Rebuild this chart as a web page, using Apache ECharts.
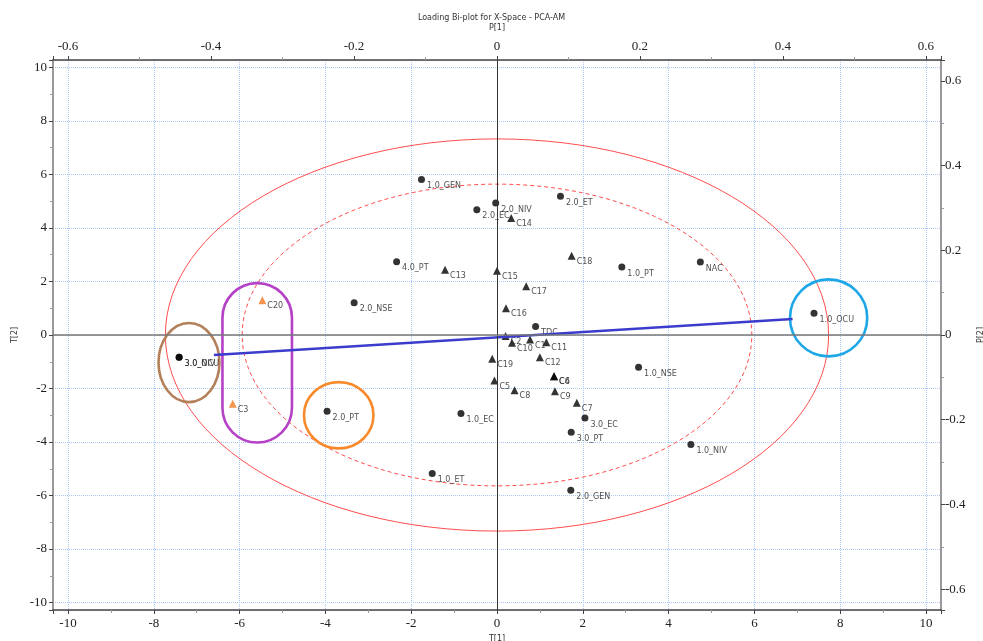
<!DOCTYPE html>
<html>
<head>
<meta charset="utf-8">
<script src="https://cdn.jsdelivr.net/npm/echarts@6/dist/echarts.min.js"></script>
<style>
  html, body { margin: 0; padding: 0; background: #fff; }
  #main { width: 983px; height: 641px; }
</style>
</head>
<body>
<div id="main"></div>
<script>
// observations (dots)
var obsNames = ['1.0_GEN', '2.0_EC', '2.0_NIV', '2.0_ET', '4.0_PT', '2.0_NSE', '1.0_PT', 'NAC', '1.0_OCU', '1.0_NSE',
    '1.0_NIV', 'TDC', '1.0_EC', '3.0_EC', '3.0_PT', '1.0_ET', '2.0_GEN', '3.0_OCU', '3.0_NIV', '2.0_PT'];
var obsT1 = [-1.76, -0.47, -0.03, 1.48, -2.34, -3.33, 2.91, 4.74, 7.39, 3.30,
    4.52, 0.90, -0.84, 2.05, 1.73, -1.51, 1.72, -7.41, -7.41, -3.96];
var obsT2 = [5.81, 4.68, 4.93, 5.19, 2.74, 1.21, 2.54, 2.73, 0.81, -1.21,
    -4.09, 0.32, -2.93, -3.10, -3.64, -5.18, -5.80, -0.83, -0.83, -2.85];

// loadings (triangles)
var varNames = ['C14', 'C13', 'C15', 'C18', 'C17', 'C16', 'C2', 'C10', 'C1', 'C11',
    'C12', 'C19', 'C5', 'C8', 'C4', 'C6', 'C9', 'C7'];
var varT1 = [0.33, -1.21, 0.00, 1.74, 0.68, 0.21, 0.20, 0.35, 0.77, 1.15,
    1.00, -0.11, -0.06, 0.41, 1.33, 1.33, 1.35, 1.86];
var varT2 = [4.37, 2.44, 2.40, 2.96, 1.82, 1.00, -0.04, -0.29, -0.17, -0.27,
    -0.83, -0.89, -1.70, -2.07, -1.54, -1.54, -2.10, -2.53];

// highlighted loadings (orange triangles)
var hiNames = ['C20', 'C3'];
var hiT1 = [-5.47, -6.16];
var hiT2 = [1.30, -2.57];

// loading vector end points
var vecT1 = [-6.60, 6.89];
var vecT2 = [-0.75, 0.60];

// Hotelling ellipses (outer solid, inner dashed): semi axes
var ellA = [7.73, 5.94];
var ellB = [7.33, 5.64];

// marked regions: centre t1, centre t2, half width, half height
var regionCx = [-7.18, -5.59, -3.69, 7.73];
var regionCy = [-1.03, -1.04, -3.00, 0.64];
var regionRx = [0.71, 0.81, 0.81, 0.90];
var regionRy = [1.48, 2.98, 1.24, 1.44];

// axis ranges
var tRange1 = [-10.35, 10.35];
var tRange2 = [-10.28, 10.28];
var pRange1 = [-0.621, 0.621];
var pRange2 = [-0.649, 0.649];

var myChart = echarts.init(document.getElementById('main'));

var labelFont = 'DejaVu Sans';
var tickFont = 'Liberation Serif';

function zipPts(a, b, names) {
    return a.map(function (v, i) { return [v, b[i], names ? names[i] : '']; });
}

var ellData = ellA.map(function (a, i) { return [0, 0, a, ellB[i], i]; });
var ellStyles = [
    { stroke: '#ff4d4d', lineWidth: 1, fill: 'none' },
    { stroke: '#ff4d4d', lineWidth: 1, fill: 'none', lineDash: [4, 3] }
];
var regionData = regionCx.map(function (v, i) { return [v, regionCy[i], regionRx[i], regionRy[i], i]; });
var regionColors = ['#b3805a', '#b541c6', '#f7892a', '#1ea7e6'];

var pointLabel = {
    show: true,
    formatter: function (p) { return p.value[2]; },
    position: [9, 6],
    fontSize: 8,
    fontFamily: labelFont,
    color: '#222'
};

function axisText(size) {
    return { fontFamily: tickFont, fontSize: size, color: '#222' };
}

var gridLine = { show: true, lineStyle: { color: '#abc8f7', type: [1, 1], width: 1 } };

option = {
    animation: false,
    title: {
        text: 'Loading Bi-plot for X-Space - PCA-AM',
        left: 'center',
        top: 9,
        textStyle: { fontSize: 8, fontWeight: 'normal', fontFamily: labelFont, color: '#333' }
    },
    grid: { left: 53, right: 42, top: 60, bottom: 31, containLabel: false, outerBoundsMode: 'none' },
    xAxis: [
        {
            type: 'value', position: 'bottom',
            min: tRange1[0], max: tRange1[1], splitNumber: 10,
            name: 'T[1]', nameLocation: 'middle', nameGap: 22,
            nameTextStyle: { fontFamily: labelFont, fontSize: 8, color: '#333' },
            axisLine: { onZero: false, lineStyle: { color: '#444', width: 1.5 } },
            axisTick: { length: 4, lineStyle: { color: '#444' } },
            minorTick: { show: true, splitNumber: 2, length: 3, lineStyle: { color: '#999' } },
            axisLabel: Object.assign({ margin: 7, showMinLabel: false, showMaxLabel: false }, axisText(13)),
            splitLine: gridLine
        },
        {
            type: 'value', position: 'top',
            min: pRange1[0], max: pRange1[1], splitNumber: 6,
            name: 'P[1]', nameLocation: 'middle', nameGap: 28,
            nameTextStyle: { fontFamily: labelFont, fontSize: 8, color: '#333' },
            axisLine: { onZero: false, lineStyle: { color: '#444', width: 1.5 } },
            axisTick: { length: 4, lineStyle: { color: '#444' } },
            minorTick: { show: true, splitNumber: 2, length: 3, lineStyle: { color: '#999' } },
            axisLabel: Object.assign({ margin: 7, showMinLabel: false, showMaxLabel: false }, axisText(13)),
            splitLine: { show: false }
        }
    ],
    yAxis: [
        {
            type: 'value', position: 'left',
            min: tRange2[0], max: tRange2[1], splitNumber: 10,
            name: 'T[2]', nameLocation: 'middle', nameGap: 32, nameRotate: 90,
            nameTextStyle: { fontFamily: labelFont, fontSize: 8, color: '#333' },
            axisLine: { onZero: false, lineStyle: { color: '#999', width: 2 } },
            axisTick: { length: 4, lineStyle: { color: '#444' } },
            minorTick: { show: true, splitNumber: 2, length: 3, lineStyle: { color: '#999' } },
            axisLabel: Object.assign({ margin: 6, showMinLabel: false, showMaxLabel: false }, axisText(13)),
            splitLine: gridLine
        },
        {
            type: 'value', position: 'right',
            min: pRange2[0], max: pRange2[1], splitNumber: 6,
            name: 'P[2]', nameLocation: 'middle', nameGap: 30, nameRotate: 90,
            nameTextStyle: { fontFamily: labelFont, fontSize: 8, color: '#333' },
            axisLine: { onZero: false, lineStyle: { color: '#999', width: 2 } },
            axisTick: { length: 4, lineStyle: { color: '#444' } },
            minorTick: { show: true, splitNumber: 2, length: 3, lineStyle: { color: '#999' } },
            axisLabel: Object.assign({ margin: 4, showMinLabel: false, showMaxLabel: false }, axisText(13)),
            splitLine: { show: false }
        }
    ],
    series: [
        {
            // confidence ellipses
            type: 'custom',
            coordinateSystem: 'cartesian2d',
            silent: true,
            data: ellData,
            renderItem: function (params, api) {
                var c = api.coord([api.value(0), api.value(1)]);
                var s = api.size([api.value(2), api.value(3)]);
                return {
                    type: 'ellipse',
                    shape: { cx: c[0], cy: c[1], rx: s[0], ry: s[1] },
                    style: ellStyles[api.value(4)]
                };
            },
            markLine: {
                silent: true,
                symbol: ['none', 'none'],
                label: { show: false },
                animation: false,
                data: [
                    { xAxis: 0, lineStyle: { color: '#333', width: 1, type: 'solid' } },
                    { yAxis: 0, lineStyle: { color: '#777', width: 1.5, type: 'solid' } }
                ]
            }
        },
        {
            // marked regions
            type: 'custom',
            coordinateSystem: 'cartesian2d',
            silent: true,
            data: regionData,
            renderItem: function (params, api) {
                var c = api.coord([api.value(0), api.value(1)]);
                var s = api.size([api.value(2), api.value(3)]);
                var k = api.value(4);
                var style = { stroke: regionColors[k], lineWidth: 2.6, fill: 'none' };
                if (k === 1) {
                    return {
                        type: 'rect',
                        shape: { x: c[0] - s[0], y: c[1] - s[1], width: 2 * s[0], height: 2 * s[1], r: s[0] },
                        style: style
                    };
                }
                return { type: 'ellipse', shape: { cx: c[0], cy: c[1], rx: s[0], ry: s[1] }, style: style };
            }
        },
        {
            type: 'line',
            data: zipPts(vecT1, vecT2),
            showSymbol: false,
            silent: true,
            lineStyle: { color: '#3c3ccc', width: 2.6 }
        },
        {
            type: 'scatter',
            data: zipPts(varT1, varT2, varNames),
            symbol: 'triangle',
            symbolSize: 8,
            itemStyle: { color: '#000' },
            label: pointLabel
        },
        {
            type: 'scatter',
            data: zipPts(hiT1, hiT2, hiNames),
            symbol: 'triangle',
            symbolSize: 8,
            itemStyle: { color: '#f07a22' },
            label: pointLabel
        },
        {
            type: 'scatter',
            data: zipPts(obsT1, obsT2, obsNames),
            symbol: 'circle',
            symbolSize: 7,
            itemStyle: { color: '#000' },
            label: pointLabel
        }
    ]
};

myChart.setOption(option);
</script>
</body>
</html>
